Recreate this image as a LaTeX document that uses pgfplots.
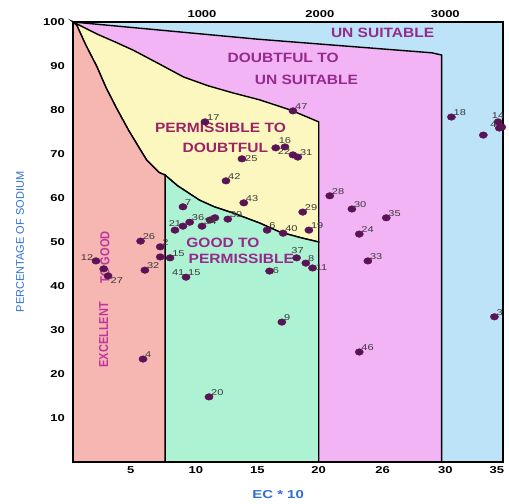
\documentclass[border=0pt]{standalone}
\usepackage{pgfplots}
\pgfplotsset{compat=1.18}
\usepackage{fontspec}
\setmainfont{Liberation Sans}
\newfontfamily\wide[FakeStretch=1.3]{Liberation Sans}
\newfontfamily\wideB[FakeStretch=1.15]{Liberation Sans}
\newfontfamily\narrowB[FakeStretch=0.85]{Liberation Sans}
\definecolor{cExc}{HTML}{F6B6B2}
\definecolor{cGood}{HTML}{AEF2D4}
\definecolor{cPerm}{HTML}{FBF7BE}
\definecolor{cDoubt}{HTML}{F3B4F6}
\definecolor{cUns}{HTML}{BCE3F7}
\definecolor{cTxt}{HTML}{962A8C}
\definecolor{cTxtP}{HTML}{9C2266}
\definecolor{cMag}{HTML}{C2359F}
\definecolor{cDot}{HTML}{5A1455}
\definecolor{cLbl}{HTML}{3A3A3A}
\definecolor{cAx}{HTML}{2E6FD6}
\begin{document}
\begin{tikzpicture}
\begin{axis}[
  scale only axis, width=430pt, height=440pt,
  xmin=0, xmax=35, ymin=0, ymax=100,
  clip=false, axis on top,
  axis line style={line width=1.6pt},
  axis background/.style={fill=cUns},
  xtick={4.7,10,15,20,25.2,30.3,34.5},
  xticklabels={5,10,15,20,26,30,35},
  ytick={10,20,...,100},
  tick style={draw=none},
  /pgf/number format/assume math mode=true,
  ticklabel style={font=\wide\bfseries\fontsize{10}{12}\selectfont},
  xticklabel style={inner sep=0pt, yshift=-4pt},
  yticklabel style={inner sep=0pt, xshift=-8pt},
  xlabel={EC * 10},
  ylabel={PERCENTAGE OF SODIUM},
  every axis x label/.style={at={(axis description cs:0.477,-0.073)}, anchor=center, font=\wide\bfseries\fontsize{11.5}{12}\selectfont, text=cAx},
  every axis y label/.style={at={(axis description cs:-0.123,0.5)}, rotate=90, anchor=center, font=\fontsize{11}{12}\selectfont, text=cAx},
  lbl/.style={nodes near coords, point meta=explicit symbolic,
    every node near coord/.style={font=\wide\fontsize{8.5}{9}\selectfont, text=cLbl, inner sep=0.5pt, #1}},
  dots/.style={only marks, mark=*, mark size=3.3pt, color=cDot, mark options={xscale=1.25, fill=cDot, draw=cDot}},
]
% Doubtful to unsuitable (pink)
\addplot[fill=cDoubt, draw=black, line width=1.4pt] coordinates {
(0,100) (15,96.1) (29.2,93) (30,92.5) (30,0) (0,0)} -- cycle;
% Permissible to doubtful (yellow)
\addplot[fill=cPerm, draw=black, line width=1.4pt] coordinates {
(0,100) (1,98.6) (2,97.2) (3.4,95.5) (4.9,93.6) (7,90.5) (9,87.5) (11,85.5) (13,83.9) (15.2,82.3) (17.7,80) (20,77.3)
(20,50) (18.5,51) (16.8,52.3) (15.2,54.3) (13,56.6) (11.5,58) (10.3,59.5) (8.5,62.8) (7.5,65.2)
(7,65.8) (6,68.6) (5.45,71.1) (4.5,75.5) (3.58,80.2) (2.7,85) (1.95,89.8) (1,95) (0.3,99.3)} -- cycle;
% Good to permissible (green)
\addplot[fill=cGood, draw=black, line width=1.4pt] coordinates {
(7.5,65.2) (8.5,62.8) (10.3,59.5) (11.5,58) (13,56.6) (15.2,54.3) (16.8,52.3) (18.5,51) (20,50) (20,0) (7.5,0)} -- cycle;
% Excellent to good (salmon)
\addplot[fill=cExc, draw=black, line width=1.4pt] coordinates {
(0,100) (0.3,99.3) (1,95) (1.95,89.8) (2.7,85) (3.58,80.2) (4.5,75.5) (5.45,71.1) (6,68.6) (7,65.8) (7.5,65.2) (7.5,0) (0,0)} -- cycle;

% region labels
\node[font=\wideB\bfseries\fontsize{13.5}{14}\selectfont, text=cTxt] at (axis cs:25.2,97.5) {UN SUITABLE};
\node[font=\wideB\bfseries\fontsize{13.5}{14}\selectfont, text=cTxt] at (axis cs:17.1,91.8) {DOUBTFUL TO};
\node[font=\wideB\bfseries\fontsize{13.5}{14}\selectfont, text=cTxt] at (axis cs:19.0,86.8) {UN SUITABLE};
\node[font=\wideB\bfseries\fontsize{13.5}{14}\selectfont, text=cTxtP] at (axis cs:12.0,76.0) {PERMISSIBLE TO};
\node[font=\wideB\bfseries\fontsize{13.5}{14}\selectfont, text=cTxtP] at (axis cs:12.4,71.4) {DOUBTFUL};
\node[font=\wideB\bfseries\fontsize{13.5}{14}\selectfont, text=cTxt] at (axis cs:12.2,49.9) {GOOD TO};
\node[font=\wideB\bfseries\fontsize{13.5}{14}\selectfont, text=cTxt] at (axis cs:13.7,46.1) {PERMISSIBLE};
\node[font=\narrowB\bfseries\fontsize{13}{14}\selectfont, text=cMag, rotate=90] at (axis cs:2.5,28.9) {EXCELLENT};
\node[font=\narrowB\bfseries\fontsize{13}{14}\selectfont, text=cMag, rotate=90] at (axis cs:2.6,46.5) {TO GOOD};

% top ticks
\node[font=\wide\bfseries\fontsize{10}{12}\selectfont, anchor=south, inner sep=0pt, yshift=4.5pt] at (axis cs:10.5,100) {1000};
\node[font=\wide\bfseries\fontsize{10}{12}\selectfont, anchor=south, inner sep=0pt, yshift=4.5pt] at (axis cs:20.1,100) {2000};
\node[font=\wide\bfseries\fontsize{10}{12}\selectfont, anchor=south, inner sep=0pt, yshift=4.5pt] at (axis cs:30.3,100) {3000};

% unlabeled dots
\addplot[dots] table {
x y
16.5 71.4
8.95 53.6
11.15 55.0
11.55 55.5
7.1 46.6
2.5 43.9
34.9 76.1
33.4 74.3
};
% labels above right
\addplot[dots, lbl={anchor=south west, xshift=1.5pt, yshift=1pt}] table[meta=l] {
x y l
10.74 77.3 17
17.9 79.8 47
18.3 69.3 31
12.45 63.9 42
13.9 58.9 43
12.6 55.2 39
8.95 58.0 7
9.5 54.5 36
10.5 53.6 34
7.1 48.9 2
5.5 50.2 26
7.9 46.4 15
5.85 43.6 32
15.8 52.7 6
17.1 52.0 40
19.2 52.7 19
18.7 56.8 29
20.9 60.5 28
22.7 57.5 30
25.5 55.5 35
23.3 51.8 24
24.0 45.7 33
18.95 45.2 8
17.0 31.8 9
5.7 23.4 4
11.07 14.8 20
23.3 25.0 46
30.8 78.4 18
34.3 33.0 3
9.2 42.0 15
};
% labels right
\addplot[dots, lbl={anchor=west, xshift=2.5pt}] table[meta=l] {
x y l
13.75 68.9 25
19.5 44.1 11
16.0 43.4 6
};
% labels above
\addplot[dots, lbl={anchor=south, yshift=2.5pt}] table[meta=l] {
x y l
17.25 71.6 16
8.3 52.7 21
34.6 77.3 14
};
\addplot[dots, lbl={anchor=south, yshift=3.5pt, xshift=1pt}] table[meta=l] {
x y l
18.2 46.4 37
};
% labels left
\addplot[dots, lbl={anchor=south east, xshift=-2pt, yshift=0pt}] table[meta=l] {
x y l
1.87 45.7 12
17.9 69.8 22
34.7 75.9 4
};
% label below right
\addplot[dots, lbl={anchor=north west, xshift=2pt, yshift=-1pt}] table[meta=l] {
x y l
2.85 42.3 27
};
% label only
\addplot[only marks, mark=none, lbl={anchor=south east, xshift=-1pt, yshift=1pt}] table[meta=l] {
x y l
9.2 42.0 41
};
\end{axis}
\pgfresetboundingbox
\path[use as bounding box] ([shift={(-73pt,-41pt)}]current axis.south west) rectangle ([shift={(6pt,22pt)}]current axis.north east);
\end{tikzpicture}
\end{document}
